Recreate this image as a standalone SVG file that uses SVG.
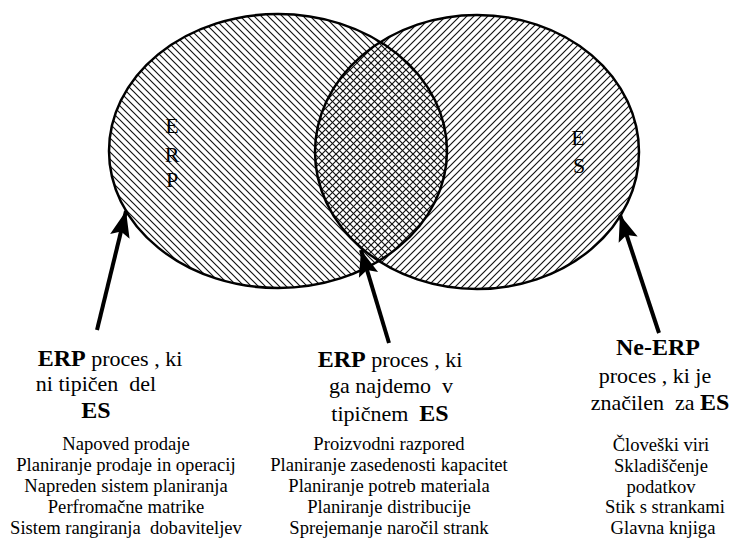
<svg xmlns="http://www.w3.org/2000/svg" width="732" height="541" viewBox="0 0 732 541">
<defs>
<pattern id="hatchL" width="7" height="7" patternUnits="userSpaceOnUse">
<path d="M-1,-1 L8,8 M-1,6 L1,8 M6,-1 L8,1" stroke="#111" stroke-width="1.15" fill="none"/>
</pattern>
<pattern id="hatchR" width="7" height="7" patternUnits="userSpaceOnUse">
<path d="M-1,8 L8,-1 M-1,1 L1,-1 M6,8 L8,6" stroke="#111" stroke-width="1.15" fill="none"/>
</pattern>
<marker id="head" markerUnits="userSpaceOnUse" markerWidth="30" markerHeight="24" refX="26" refY="10" orient="auto" viewBox="0 0 30 20">
<path d="M26,10 L0,0 L5,10 L0,20 Z" fill="#000"/>
</marker>
</defs>
<style>
.ring{fill:none;stroke:#000;stroke-width:2.5}
.arrow{stroke:#000;stroke-width:4;fill:none;marker-end:url(#head)}
.ltr{font-family:"Liberation Serif","Times New Roman",serif;font-size:22px;fill:#000;text-anchor:middle}
.hd{font-family:"Liberation Serif","Times New Roman",serif;font-size:22px;fill:#000;text-anchor:middle}
.b{font-weight:bold;font-size:24px}
.li{font-family:"Liberation Serif","Times New Roman",serif;font-size:18.6px;fill:#000;text-anchor:middle}
</style>
<rect x="0" y="0" width="732" height="541" fill="#fff"/>
<g id="node-erp">
<ellipse cx="278" cy="151" rx="169" ry="137" fill="url(#hatchL)"/>
</g>
<g id="node-es">
<ellipse cx="477" cy="152" rx="162" ry="137" fill="url(#hatchR)"/>
</g>
<g id="outlines">
<ellipse class="ring" cx="278" cy="151" rx="169" ry="137"/>
<ellipse class="ring" cx="477" cy="152" rx="162" ry="137"/>
</g>
<g id="erp-letters">
<text class="ltr" x="172" y="133">E</text>
<text class="ltr" x="172" y="162">R</text>
<text class="ltr" x="172" y="187">P</text>
</g>
<g id="es-letters">
<text class="ltr" x="578" y="145">E</text>
<text class="ltr" x="579" y="173">S</text>
</g>
<g id="connectors">
<line class="arrow" x1="97" y1="330" x2="126" y2="211"/>
<line class="arrow" x1="389" y1="343" x2="361" y2="250"/>
<line class="arrow" x1="659" y1="333" x2="620" y2="215"/>
</g>
<g id="label-left">
<text class="hd" x="110" y="366" xml:space="preserve"><tspan class="b">ERP</tspan> proces , ki</text>
<text class="hd" x="96" y="391" xml:space="preserve">ni tipičen  del</text>
<text class="hd" x="96" y="418"><tspan class="b">ES</tspan></text>
<text class="li" x="126" y="450">Napoved prodaje</text>
<text class="li" x="126" y="471">Planiranje prodaje in operacij</text>
<text class="li" x="126" y="492">Napreden sistem planiranja</text>
<text class="li" x="126" y="513">Perfromačne matrike</text>
<text class="li" x="126" y="534" xml:space="preserve">Sistem rangiranja  dobaviteljev</text>
</g>
<g id="label-middle">
<text class="hd" x="390" y="367" xml:space="preserve"><tspan class="b">ERP</tspan> proces , ki</text>
<text class="hd" x="391" y="393" xml:space="preserve">ga najdemo  v</text>
<text class="hd" x="390" y="421" xml:space="preserve">tipičnem  <tspan class="b">ES</tspan></text>
<text class="li" x="389" y="450">Proizvodni razpored</text>
<text class="li" x="389" y="471">Planiranje zasedenosti kapacitet</text>
<text class="li" x="389" y="492">Planiranje potreb materiala</text>
<text class="li" x="389" y="513">Planiranje distribucije</text>
<text class="li" x="389" y="534">Sprejemanje naročil strank</text>
</g>
<g id="label-right">
<text class="hd" x="658" y="355"><tspan class="b">Ne-ERP</tspan></text>
<text class="hd" x="655" y="383">proces , ki je</text>
<text class="hd" x="660" y="410" xml:space="preserve">značilen  za <tspan class="b">ES</tspan></text>
<text class="li" x="661" y="451">Človeški viri</text>
<text class="li" x="661" y="472">Skladiščenje</text>
<text class="li" x="661" y="493">podatkov</text>
<text class="li" x="665" y="513">Stik s strankami</text>
<text class="li" x="663" y="534">Glavna knjiga</text>
</g>
</svg>
